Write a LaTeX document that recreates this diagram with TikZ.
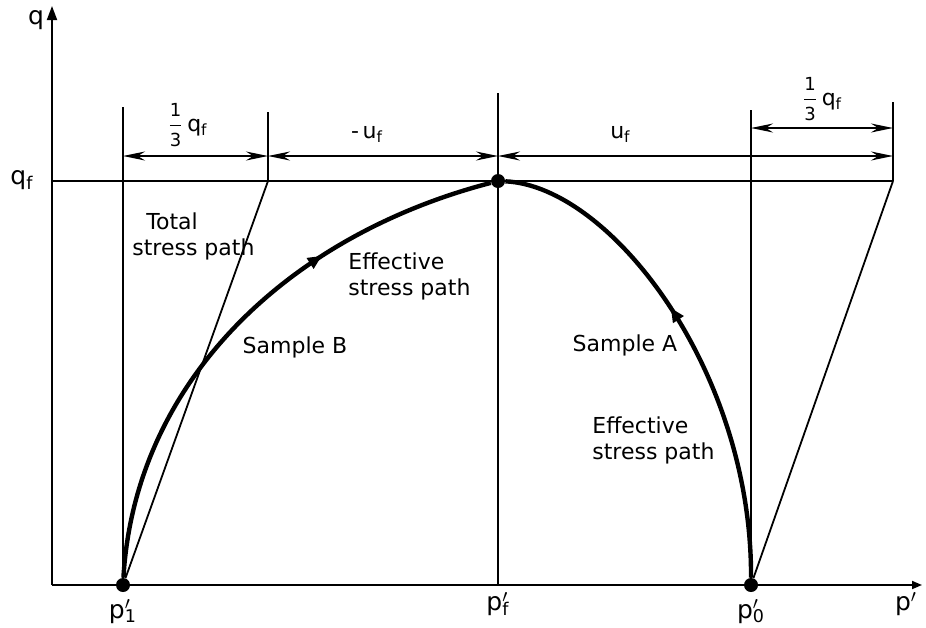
\documentclass[tikz,border=0pt]{standalone}
\usepackage{fontspec}
\setmainfont{DejaVu Sans}
\usetikzlibrary{arrows.meta, positioning, decorations.markings}
\newcommand{\thirdqf}{$\displaystyle\frac{\mbox{\small 1}}{\mbox{\small 3}}$\,q\textsubscript{f}}
\newcommand{\pdash}[1]{p\rlap{$'$}\textsubscript{#1}}

\begin{document}
\begin{tikzpicture}[
        x=0.5pt, y=-0.5pt,
        font=\fontsize{11}{13}\selectfont,
        thinline/.style={line width=0.9pt},
        dim/.style={line width=0.8pt, {Stealth[length=11pt,width=4.5pt]}-{Stealth[length=11pt,width=4.5pt]}},
        effpath/.style={line width=2.2pt, decoration={markings, mark=at position #1 with {\arrow{Triangle[length=7pt,width=6pt]}}}, postaction=decorate},
        dot/.style={circle, fill, inner sep=0pt, minimum size=7pt},
        axlab/.style={font=\fontsize{12.5}{14}\selectfont},
        txt/.style={align=left, inner sep=1pt, anchor=west}
        ]
        \useasboundingbox (0,0) rectangle (926,627);

        % axes
        \coordinate (origin) at (52,585);
        \coordinate (qtop) at (52,6);
        \coordinate (pend) at (922,585);
        \draw[thinline, -{Triangle[length=7pt,width=5pt]}] (origin) -- (qtop);
        \draw[thinline, -{Triangle[length=5pt,width=4pt]}] (origin) -- (pend);
        \node[axlab] (qlab) at (36,20) {q};
        \node[axlab] (qflab) at (22,180) {q\textsubscript{f}};

        % failure points
        \node[dot] (p1) at (123,585) {};
        \node[dot] (pf) at (498,181) {};
        \node[dot] (p0) at (751,585) {};
        \coordinate (pfaxis) at (498,585);
        \coordinate (B) at (268,181);
        \coordinate (A) at (893,181);
        \coordinate (qfl) at (52,181);

        % verticals
        \coordinate (t1) at (123,107);
        \coordinate (tB) at (268,112);
        \coordinate (tf) at (498,93);
        \coordinate (t0) at (751,110);
        \coordinate (tA) at (893,102);
        \draw[thinline] (t1) -- (p1);
        \draw[thinline] (tB) -- (B);
        \draw[thinline] (tf) -- ([yshift=-7pt]pf.center);
        \draw[thinline] ([yshift=7pt]pf.center) -- (pfaxis);
        \draw[thinline] (t0) -- (p0);
        \draw[thinline] (tA) -- (A);
        \draw[thinline] (qfl) -- (A);

        % dimensions
        \coordinate (d1) at (123,156);
        \coordinate (d2) at (268,156);
        \coordinate (d3) at (498,156);
        \coordinate (d4) at (893,156);
        \coordinate (e1) at (751,128);
        \coordinate (e2) at (893,128);
        \draw[dim] (d1) -- node[above=1pt, xshift=-4pt] {\thirdqf} (d2);
        \draw[dim] (d2) -- node[above=3pt, xshift=-8pt] {-\,u\textsubscript{f}} (d3);
        \draw[dim] (d3) -- node[above=3pt, pos=0.31] {u\textsubscript{f}} (d4);
        \draw[dim] (e1) -- node[above=0pt] {\thirdqf} (e2);

        % total stress paths
        \draw[thinline] (p1) -- (B);
        \draw[thinline] (p0) -- (A);

        % effective stress paths
        \draw[effpath=0.68] (p1) .. controls (135,380) and (290,235) .. (pf);
        \draw[effpath=0.57] (p0) .. controls (752,370) and (610,186) .. (pf);

        % labels
        \node[txt] (totB) at (130,236) {\hspace*{7pt}Total\\stress path};
        \node[txt] (effB) at (346,276) {Effective\\stress path};
        \node (sampB) at (295,347) {Sample B};
        \node (sampA) at (625,345) {Sample A};
        \node[txt] (effA) at (590,440) {Effective\\stress path};
        \node[axlab, below=0pt of p1] {\pdash{1}};
        \node[axlab, below=0pt of pfaxis] {\pdash{f}};
        \node[axlab, below=0pt of p0] {\pdash{0}};
        \node[axlab, below=0pt of pend, xshift=-8pt] {p$'$};

    \end{tikzpicture}
\end{document}
